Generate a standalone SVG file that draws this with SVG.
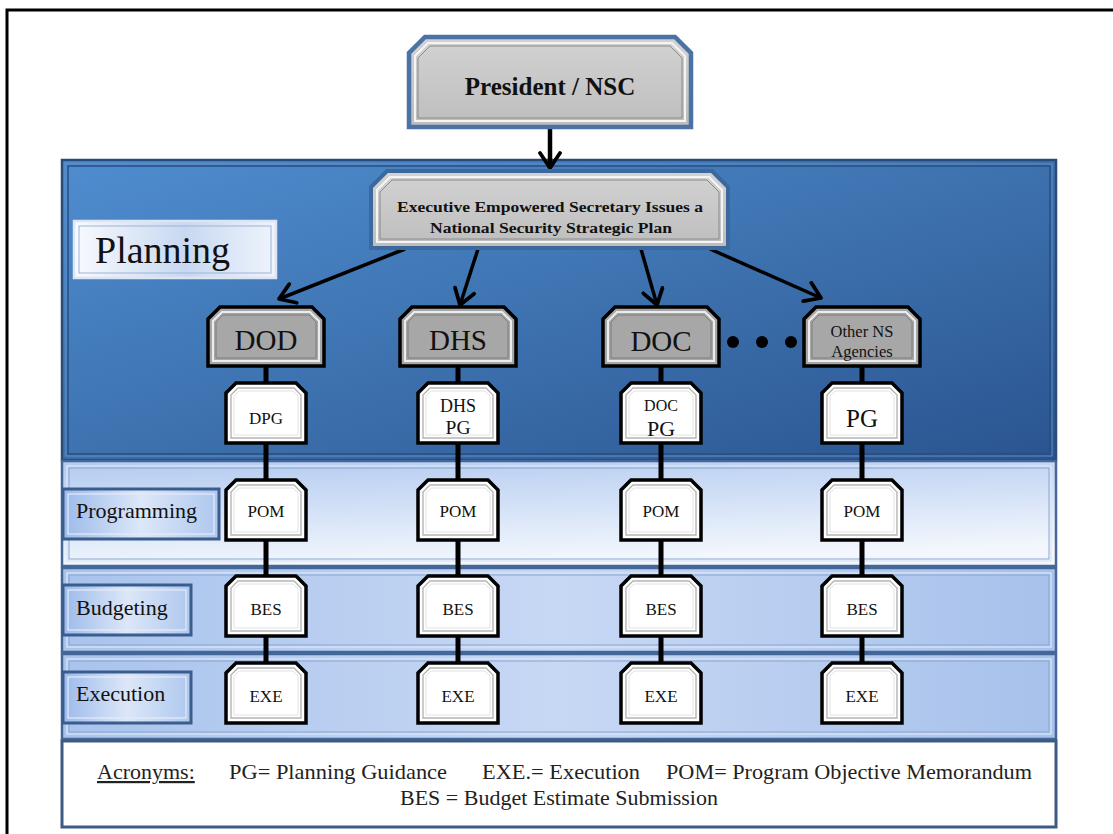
<svg xmlns="http://www.w3.org/2000/svg" width="1113" height="834" viewBox="0 0 1113 834" font-family="Liberation Serif, DejaVu Serif, serif">
<style>
text{fill:#111;}
.mid{text-anchor:middle;}
.bold{font-weight:bold;}
.conn{stroke:#000;fill:none;}
.vline{stroke-width:5;}
.arrow{stroke-width:3.5;marker-end:url(#arr);}
.agOut{fill:#a7a7a7;stroke:#000;stroke-width:3.5;}
.smOut{fill:#fff;stroke:#000;stroke-width:3.5;}
.bevA{fill:none;stroke:#ececec;stroke-width:2;}
.bevB{fill:none;stroke:#7d7d7d;stroke-width:1;}
.bevW{fill:none;stroke:#b5b5b5;stroke-width:1.4;}
.bevW2{fill:none;stroke:#e2e2e2;stroke-width:1;}
.lab{fill:url(#labGrad);stroke:#3a5d8e;stroke-width:3;}
.labIn{fill:none;stroke:#e4ecf9;stroke-width:1.2;}
.band{stroke:#44679a;stroke-width:2.5;}
.bandIn{fill:none;stroke:#d9e5f7;stroke-width:1.3;}
.bandIn2{fill:none;stroke:#8aa6d0;stroke-width:1;}
.ac{font-size:22px;fill:#222;}
</style>
<defs>
<linearGradient id="planGrad" x1="0" y1="0" x2="1" y2="1">
<stop offset="0" stop-color="#4f8dd0"/>
<stop offset="0.5" stop-color="#3d72af"/>
<stop offset="1" stop-color="#2a5490"/>
</linearGradient>
<linearGradient id="progGrad" x1="0" y1="0" x2="0.25" y2="1">
<stop offset="0" stop-color="#b3cbf0"/>
<stop offset="1" stop-color="#f3f7fd"/>
</linearGradient>
<linearGradient id="budGrad" x1="0" y1="0" x2="1" y2="0">
<stop offset="0" stop-color="#a9c3ec"/>
<stop offset="0.5" stop-color="#c7d8f4"/>
<stop offset="1" stop-color="#a7c1eb"/>
</linearGradient>
<linearGradient id="labGrad" x1="0" y1="0" x2="1" y2="0">
<stop offset="0" stop-color="#9cbaea"/>
<stop offset="0.5" stop-color="#dce7f8"/>
<stop offset="1" stop-color="#aec7ee"/>
</linearGradient>
<linearGradient id="planLabGrad" x1="0" y1="0" x2="1" y2="0">
<stop offset="0" stop-color="#f8fafe"/>
<stop offset="0.55" stop-color="#c8d8f1"/>
<stop offset="1" stop-color="#eff4fc"/>
</linearGradient>
<linearGradient id="grayGrad" x1="0" y1="0" x2="0" y2="1">
<stop offset="0" stop-color="#d3d3d3"/>
<stop offset="1" stop-color="#bdbdbd"/>
</linearGradient>
<marker id="arr" markerUnits="userSpaceOnUse" markerWidth="24" markerHeight="24" viewBox="0 0 24 24" refX="21" refY="12" orient="auto">
<path d="M6,2 L21,12 L6,22" fill="none" stroke="#000" stroke-width="3.8" stroke-linejoin="round" stroke-linecap="round"/>
</marker>
<path id="agO" d="M12,0 L104,0 L116,12 L116,59 L0,59 L0,12 Z"/>
<path id="agI" d="M14,5 L102,5 L111,14 L111,54 L5,54 L5,14 Z"/>
<path id="agI2" d="M15,8 L101,8 L108,15 L108,51 L8,51 L8,15 Z"/>
<path id="smO" d="M10,0 L70,0 L80,10 L80,60 L0,60 L0,10 Z"/>
<path id="smI" d="M12,5 L68,5 L75,12 L75,55 L5,55 L5,12 Z"/>
<path id="smI2" d="M13,8 L67,8 L72,13 L72,52 L8,52 L8,13 Z"/>
</defs>

<!-- outer frame -->
<path d="M7,836 L7,10 L1115,10" fill="none" stroke="#000" stroke-width="3"/>

<!-- panel and bands -->
<g id="planning-panel">
<rect x="62" y="160" width="994" height="300" fill="url(#planGrad)" stroke="#2a4a77" stroke-width="2.5"/>
<rect x="68" y="166" width="982" height="288" fill="none" stroke="#2a4d7e" stroke-width="1.5"/>
<rect x="66" y="164" width="986" height="292" fill="none" stroke="#5a8bc7" stroke-width="1"/>
</g>
<g id="programming-band">
<rect class="band" x="62" y="461" width="994" height="105" fill="url(#progGrad)"/>
<rect class="bandIn" x="67" y="466" width="984" height="95"/>
<rect class="bandIn2" x="69" y="468" width="980" height="91"/>
</g>
<g id="budgeting-band">
<rect class="band" x="62" y="568" width="994" height="84" fill="url(#budGrad)"/>
<rect class="bandIn" x="67" y="573" width="984" height="74"/>
<rect class="bandIn2" x="69" y="575" width="980" height="70"/>
</g>
<g id="execution-band">
<rect class="band" x="62" y="654" width="994" height="85" fill="url(#budGrad)"/>
<rect class="bandIn" x="67" y="659" width="984" height="75"/>
<rect class="bandIn2" x="69" y="661" width="980" height="71"/>
</g>
<g id="acronyms">
<rect x="62" y="741" width="994" height="86" fill="#fff" stroke="#3d5a82" stroke-width="3"/>
<text class="ac" x="97" y="779" text-decoration="underline">Acronyms:</text>
<text class="ac" x="229" y="779" textLength="218" lengthAdjust="spacingAndGlyphs">PG= Planning Guidance</text>
<text class="ac" x="482" y="779" textLength="158" lengthAdjust="spacingAndGlyphs">EXE.= Execution</text>
<text class="ac" x="666" y="779" textLength="366" lengthAdjust="spacingAndGlyphs">POM= Program Objective Memorandum</text>
<text class="ac mid" x="559" y="805">BES = Budget Estimate Submission</text>
</g>

<!-- band labels -->
<g id="label-planning">
<rect x="74" y="221" width="202" height="57" fill="url(#planLabGrad)" stroke="#dbe5f3" stroke-width="2.5"/>
<rect x="79" y="226" width="192" height="47" fill="none" stroke="#9fb4d4" stroke-width="1"/>
<text x="95" y="263" font-size="38">Planning</text>
</g>
<g id="label-programming">
<rect class="lab" x="63" y="489" width="156" height="50"/>
<rect class="labIn" x="68" y="494" width="146" height="40"/>
<text x="76" y="518" font-size="22">Programming</text>
</g>
<g id="label-budgeting">
<rect class="lab" x="63" y="585" width="128" height="50"/>
<rect class="labIn" x="68" y="590" width="118" height="40"/>
<text x="76" y="615" font-size="22">Budgeting</text>
</g>
<g id="label-execution">
<rect class="lab" x="63" y="672" width="128" height="51"/>
<rect class="labIn" x="68" y="677" width="118" height="41"/>
<text x="76" y="701" font-size="22">Execution</text>
</g>

<!-- connectors -->
<g id="connectors">
<line class="conn vline" x1="266" y1="366" x2="266" y2="663"/>
<line class="conn vline" x1="458" y1="366" x2="458" y2="663"/>
<line class="conn vline" x1="661" y1="366" x2="661" y2="663"/>
<line class="conn vline" x1="862" y1="366" x2="862" y2="663"/>
<line class="conn" x1="550" y1="127" x2="550" y2="168" stroke-width="4.5" marker-end="url(#arr)"/>
<path class="conn arrow" d="M405,249 L279,299"/>
<path class="conn arrow" d="M478,249 L460,305"/>
<path class="conn arrow" d="M641,249 L657,305"/>
<path class="conn arrow" d="M710,249 L821,298"/>
</g>

<!-- top nodes -->
<g id="president">
<path d="M425,37 L675,37 L691,53 L691,127 L409,127 L409,53 Z" fill="url(#grayGrad)" stroke="#4a72a4" stroke-width="4.5"/>
<path d="M428,43 L672,43 L685,56 L685,121 L415,121 L415,56 Z" fill="none" stroke="#f4f4f4" stroke-width="2"/>
<path d="M430,46 L670,46 L682,58 L682,118 L418,118 L418,58 Z" fill="none" stroke="#8a8a8a" stroke-width="1"/>
<text class="mid bold" x="550" y="95" font-size="25">President / NSC</text>
</g>
<g id="executive">
<path d="M387,171 L712,171 L728,187 L728,248 L371,248 L371,187 Z" fill="url(#grayGrad)" stroke="#3b689d" stroke-width="4"/>
<path d="M390,177 L709,177 L722,190 L722,242 L377,242 L377,190 Z" fill="none" stroke="#f4f4f4" stroke-width="2"/>
<path d="M392,180 L707,180 L719,192 L719,239 L380,239 L380,192 Z" fill="none" stroke="#8a8a8a" stroke-width="1"/>
<text class="mid bold" x="550" y="212" font-size="15.5" textLength="306" lengthAdjust="spacingAndGlyphs">Executive Empowered Secretary Issues a</text>
<text class="mid bold" x="551" y="233" font-size="15.5" textLength="242" lengthAdjust="spacingAndGlyphs">National Security Strategic Plan</text>
</g>

<!-- agencies -->
<g id="dod">
<use href="#agO" x="208" y="307" class="agOut"/>
<use href="#agI" x="208" y="307" class="bevA"/>
<use href="#agI2" x="208" y="307" class="bevB"/>
<text class="mid" x="266" y="350" font-size="29">DOD</text>
</g>
<g id="dhs">
<use href="#agO" x="400" y="307" class="agOut"/>
<use href="#agI" x="400" y="307" class="bevA"/>
<use href="#agI2" x="400" y="307" class="bevB"/>
<text class="mid" x="458" y="350" font-size="29">DHS</text>
</g>
<g id="doc">
<use href="#agO" x="603" y="307" class="agOut"/>
<use href="#agI" x="603" y="307" class="bevA"/>
<use href="#agI2" x="603" y="307" class="bevB"/>
<text class="mid" x="661" y="351" font-size="29">DOC</text>
</g>
<g id="ellipsis">
<circle cx="733" cy="342" r="6" fill="#000"/>
<circle cx="762" cy="342" r="6" fill="#000"/>
<circle cx="791" cy="342" r="6" fill="#000"/>
</g>
<g id="other-ns">
<use href="#agO" x="804" y="307" class="agOut"/>
<use href="#agI" x="804" y="307" class="bevA"/>
<use href="#agI2" x="804" y="307" class="bevB"/>
<text class="mid" x="862" y="337" font-size="16.5">Other NS</text>
<text class="mid" x="862" y="357" font-size="16.5">Agencies</text>
</g>

<!-- planning guidance boxes -->
<g id="dpg">
<use href="#smO" x="226" y="383" class="smOut"/>
<use href="#smI" x="226" y="383" class="bevW"/>
<use href="#smI2" x="226" y="383" class="bevW2"/>
<text class="mid" x="266" y="424" font-size="17">DPG</text>
</g>
<g id="dhs-pg">
<use href="#smO" x="418" y="383" class="smOut"/>
<use href="#smI" x="418" y="383" class="bevW"/>
<use href="#smI2" x="418" y="383" class="bevW2"/>
<text class="mid" x="458" y="412" font-size="18">DHS</text>
<text class="mid" x="458" y="434" font-size="19.5">PG</text>
</g>
<g id="doc-pg">
<use href="#smO" x="621" y="383" class="smOut"/>
<use href="#smI" x="621" y="383" class="bevW"/>
<use href="#smI2" x="621" y="383" class="bevW2"/>
<text class="mid" x="661" y="411" font-size="16">DOC</text>
<text class="mid" x="661" y="436" font-size="22">PG</text>
</g>
<g id="other-pg">
<use href="#smO" x="822" y="383" class="smOut"/>
<use href="#smI" x="822" y="383" class="bevW"/>
<use href="#smI2" x="822" y="383" class="bevW2"/>
<text class="mid" x="862" y="427" font-size="25">PG</text>
</g>

<!-- POM -->
<g id="pom-dod"><use href="#smO" x="226" y="480" class="smOut"/><use href="#smI" x="226" y="480" class="bevW"/><use href="#smI2" x="226" y="480" class="bevW2"/><text class="mid" x="266" y="517" font-size="17">POM</text></g>
<g id="pom-dhs"><use href="#smO" x="418" y="480" class="smOut"/><use href="#smI" x="418" y="480" class="bevW"/><use href="#smI2" x="418" y="480" class="bevW2"/><text class="mid" x="458" y="517" font-size="17">POM</text></g>
<g id="pom-doc"><use href="#smO" x="621" y="480" class="smOut"/><use href="#smI" x="621" y="480" class="bevW"/><use href="#smI2" x="621" y="480" class="bevW2"/><text class="mid" x="661" y="517" font-size="17">POM</text></g>
<g id="pom-other"><use href="#smO" x="822" y="480" class="smOut"/><use href="#smI" x="822" y="480" class="bevW"/><use href="#smI2" x="822" y="480" class="bevW2"/><text class="mid" x="862" y="517" font-size="17">POM</text></g>

<!-- BES -->
<g id="bes-dod"><use href="#smO" x="226" y="576" class="smOut"/><use href="#smI" x="226" y="576" class="bevW"/><use href="#smI2" x="226" y="576" class="bevW2"/><text class="mid" x="266" y="615" font-size="17">BES</text></g>
<g id="bes-dhs"><use href="#smO" x="418" y="576" class="smOut"/><use href="#smI" x="418" y="576" class="bevW"/><use href="#smI2" x="418" y="576" class="bevW2"/><text class="mid" x="458" y="615" font-size="17">BES</text></g>
<g id="bes-doc"><use href="#smO" x="621" y="576" class="smOut"/><use href="#smI" x="621" y="576" class="bevW"/><use href="#smI2" x="621" y="576" class="bevW2"/><text class="mid" x="661" y="615" font-size="17">BES</text></g>
<g id="bes-other"><use href="#smO" x="822" y="576" class="smOut"/><use href="#smI" x="822" y="576" class="bevW"/><use href="#smI2" x="822" y="576" class="bevW2"/><text class="mid" x="862" y="615" font-size="17">BES</text></g>

<!-- EXE -->
<g id="exe-dod"><use href="#smO" x="226" y="663" class="smOut"/><use href="#smI" x="226" y="663" class="bevW"/><use href="#smI2" x="226" y="663" class="bevW2"/><text class="mid" x="266" y="702" font-size="17">EXE</text></g>
<g id="exe-dhs"><use href="#smO" x="418" y="663" class="smOut"/><use href="#smI" x="418" y="663" class="bevW"/><use href="#smI2" x="418" y="663" class="bevW2"/><text class="mid" x="458" y="702" font-size="17">EXE</text></g>
<g id="exe-doc"><use href="#smO" x="621" y="663" class="smOut"/><use href="#smI" x="621" y="663" class="bevW"/><use href="#smI2" x="621" y="663" class="bevW2"/><text class="mid" x="661" y="702" font-size="17">EXE</text></g>
<g id="exe-other"><use href="#smO" x="822" y="663" class="smOut"/><use href="#smI" x="822" y="663" class="bevW"/><use href="#smI2" x="822" y="663" class="bevW2"/><text class="mid" x="862" y="702" font-size="17">EXE</text></g>
</svg>
